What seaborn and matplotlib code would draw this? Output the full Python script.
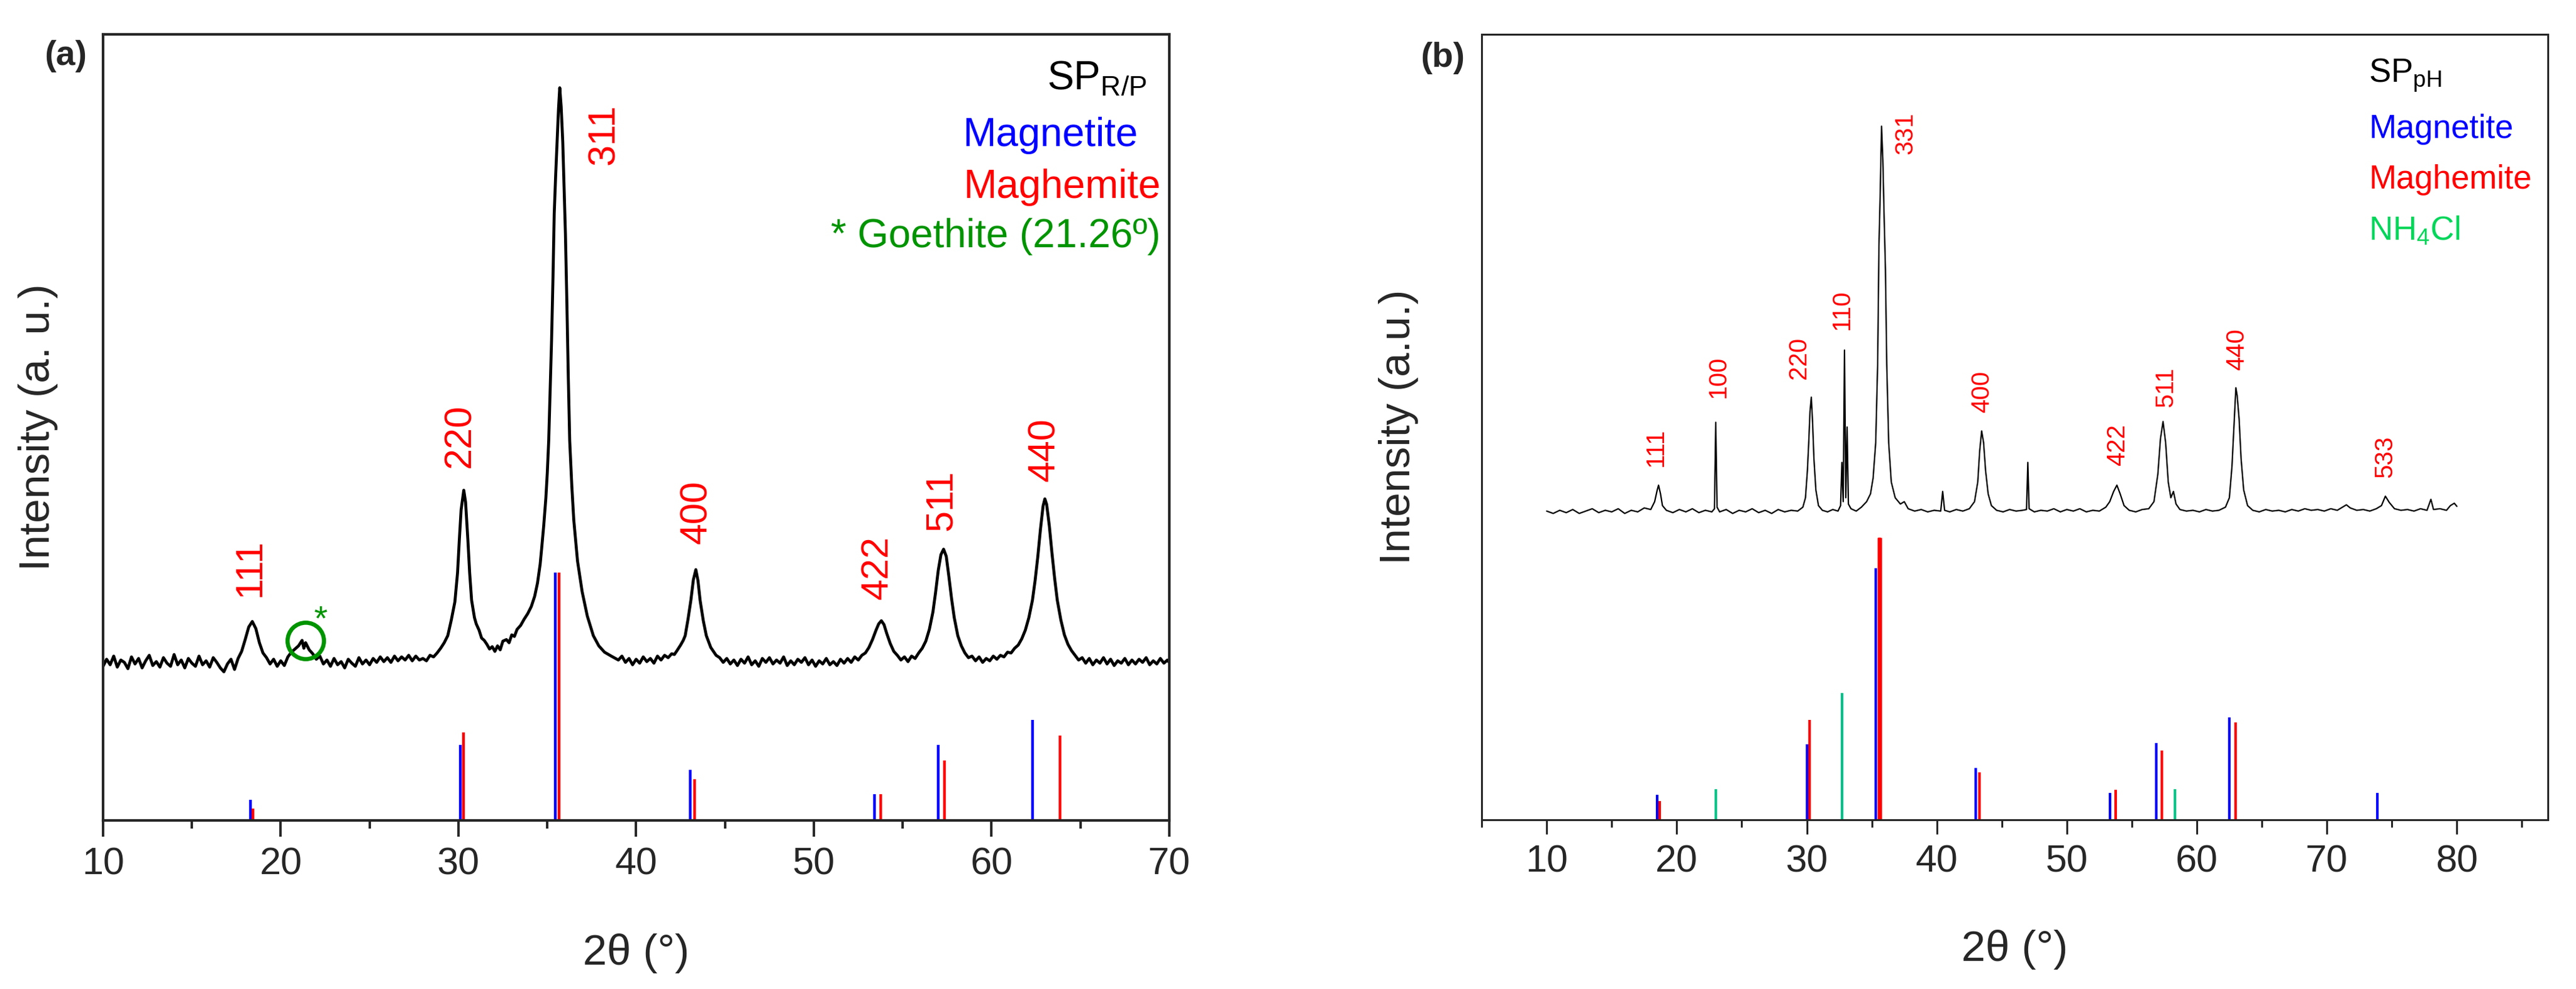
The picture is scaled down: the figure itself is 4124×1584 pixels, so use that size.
import matplotlib
matplotlib.use("Agg")
import matplotlib.pyplot as plt
import seaborn as sns
from matplotlib.ticker import MultipleLocator

# ---- (a) SP R/P pattern (2theta, intensity in a.u.)
a_tt = [10.0, 10.2, 10.4, 10.6, 10.8, 11.0, 11.2, 11.4, 11.6, 11.8, 12.0, 12.2, 12.4, 12.6, 12.8,
        13.0, 13.2, 13.4, 13.6, 13.8, 14.0, 14.2, 14.4, 14.6, 14.8, 15.0, 15.2, 15.4, 15.6, 15.8,
        16.0, 16.2, 16.4, 16.6, 16.8, 17.0, 17.2, 17.4, 17.6, 17.8, 18.0, 18.2, 18.4, 18.6, 18.8,
        19.0, 19.2, 19.4, 19.6, 19.8, 20.0, 20.2, 20.4, 20.6, 20.8, 21.0, 21.2, 21.3, 21.4, 21.6,
        21.8, 22.0, 22.2, 22.4, 22.6, 22.8, 23.0, 23.2, 23.4, 23.6, 23.8, 24.0, 24.2, 24.4, 24.6,
        24.8, 25.0, 25.2, 25.4, 25.6, 25.8, 26.0, 26.2, 26.4, 26.6, 26.8, 27.0, 27.2, 27.4, 27.6,
        27.8, 28.0, 28.2, 28.4, 28.6, 28.8, 29.0, 29.2, 29.4, 29.6, 29.8, 29.95, 30.05, 30.15, 30.3,
        30.4, 30.53, 30.63, 30.74, 30.9, 31.0, 31.16, 31.3, 31.45, 31.6, 31.75, 31.9, 32.05, 32.2,
        32.35, 32.5, 32.7, 32.85, 33.0, 33.15, 33.3, 33.5, 33.7, 33.9, 34.1, 34.29, 34.45, 34.6,
        34.68, 34.8, 34.92, 35.0, 35.08, 35.16, 35.24, 35.32, 35.39, 35.47, 35.55, 35.63, 35.7,
        35.78, 35.87, 35.95, 36.02, 36.1, 36.18, 36.26, 36.38, 36.49, 36.7, 36.96, 37.25, 37.59,
        37.9, 38.22, 38.6, 39.0, 39.2, 39.4, 39.6, 39.8, 40.0, 40.2, 40.4, 40.6, 40.8, 41.0, 41.2,
        41.4, 41.6, 41.8, 42.0, 42.15, 42.3, 42.5, 42.65, 42.76, 42.92, 43.08, 43.22, 43.36, 43.48,
        43.6, 43.78, 43.95, 44.2, 44.5, 44.7, 44.9, 45.1, 45.3, 45.5, 45.7, 45.9, 46.1, 46.3, 46.5,
        46.7, 46.9, 47.1, 47.3, 47.5, 47.7, 47.9, 48.1, 48.3, 48.5, 48.7, 48.9, 49.1, 49.3, 49.5,
        49.7, 49.9, 50.1, 50.3, 50.5, 50.7, 50.9, 51.1, 51.3, 51.5, 51.7, 51.9, 52.1, 52.3, 52.5,
        52.7, 52.9, 53.1, 53.3, 53.5, 53.65, 53.8, 53.95, 54.1, 54.3, 54.5, 54.7, 54.9, 55.1, 55.3,
        55.5, 55.7, 55.9, 56.1, 56.3, 56.5, 56.7, 56.85, 57.0, 57.15, 57.3, 57.45, 57.6, 57.75,
        57.9, 58.1, 58.3, 58.5, 58.7, 58.9, 59.1, 59.3, 59.5, 59.7, 59.9, 60.1, 60.3, 60.5, 60.7,
        60.9, 61.1, 61.3, 61.5, 61.7, 61.9, 62.1, 62.3, 62.45, 62.6, 62.75, 62.9, 63.0, 63.1,
        63.25, 63.4, 63.55, 63.7, 63.9, 64.1, 64.3, 64.5, 64.7, 64.9, 65.1, 65.3, 65.5, 65.7, 65.9,
        66.1, 66.3, 66.5, 66.7, 66.9, 67.1, 67.3, 67.5, 67.7, 67.9, 68.1, 68.3, 68.5, 68.7, 68.9,
        69.1, 69.3, 69.5, 69.7, 69.9, 70.0]
a_int = [19.6, 20.5, 19.8, 20.9, 19.5, 20.4, 20.1, 19.3, 20.8, 19.9, 20.6, 19.4, 20.3, 21.0, 19.7,
         20.2, 19.5, 20.7, 20.0, 19.6, 21.1, 19.8, 20.4, 19.4, 20.6, 20.0, 19.6, 20.9, 19.8, 20.3,
         19.5, 20.7, 20.1, 19.4, 18.9, 19.9, 20.5, 19.2, 20.6, 21.5, 23.0, 24.6, 25.3, 24.4, 22.6,
         21.3, 20.7, 19.9, 20.5, 19.6, 20.3, 19.7, 20.8, 21.4, 21.8, 22.2, 22.9, 21.9, 22.6, 21.7,
         21.2, 20.5, 20.9, 19.9, 20.4, 19.6, 20.6, 19.8, 20.2, 19.4, 20.5, 20.0, 19.6, 20.7, 19.9,
         20.4, 19.8, 20.6, 20.1, 20.8, 20.2, 20.7, 20.1, 20.9, 20.3, 20.8, 20.4, 21.0, 20.3, 20.9,
         20.4, 20.6, 20.3, 21.0, 20.8, 21.3, 21.9, 22.6, 23.5, 25.5, 27.8, 31.5, 35.7, 39.5, 42.0,
         40.5, 35.7, 31.5, 28.0, 25.8, 25.0, 24.2, 23.2, 22.9, 22.4, 21.8, 22.1, 21.5, 22.2,
         21.7, 22.8, 23.0, 22.6, 23.6, 23.4, 24.3, 24.8, 25.6, 26.3, 27.2, 28.5, 30.2, 32.6,
         34.5, 37.5, 41.0, 44.2, 48.3, 54.5, 61.0, 69.0, 77.2, 82.0, 86.3, 90.5, 93.2,
         90.8, 86.3, 80.0, 74.6, 66.0, 56.5, 48.3, 42.5, 38.2, 33.0, 29.1, 26.0, 23.5,
         22.2, 21.4, 20.9, 20.4, 20.9, 20.1, 20.6, 19.8, 20.5, 20.0, 20.8, 20.2, 20.6, 20.0, 20.9,
         20.4, 21.0, 20.7, 21.2, 21.1, 21.6, 22.3, 22.9, 23.5, 25.6, 28.0, 30.6, 31.9, 30.5,
         28.0, 25.4, 23.5, 22.0, 21.0, 20.7, 20.1, 20.6, 19.9, 20.4, 19.7, 20.5, 20.0, 20.8, 19.8,
         20.3, 19.6, 20.6, 20.1, 20.7, 19.9, 20.4, 20.0, 20.8, 19.7, 20.3, 19.8, 20.5, 20.1, 20.7,
         19.8, 20.4, 19.6, 20.3, 19.9, 20.6, 19.8, 20.2, 19.7, 20.5, 20.0, 20.6, 20.1, 20.8, 20.4,
         21.0, 21.3, 22.0, 23.0, 24.2, 25.0, 25.4, 24.9, 23.8, 22.5, 21.5, 21.0, 20.4, 20.8, 20.2,
         20.9, 20.6, 21.3, 21.9, 22.8, 24.3, 26.5, 29.0, 31.8, 33.8, 34.5, 33.6, 31.0, 28.2,
         25.8, 23.5, 22.2, 21.3, 20.7, 20.9, 20.3, 20.8, 20.1, 20.6, 20.3, 20.9, 20.5, 21.0, 20.8,
         21.4, 21.3, 21.9, 22.3, 23.1, 24.2, 25.8, 28.0, 30.5, 33.5, 37.0, 40.0, 40.9, 40.2,
         37.5, 34.0, 30.8, 28.0, 25.5, 23.6, 22.4, 21.6, 21.0, 20.4, 20.7, 20.0, 20.6, 19.8, 20.4,
         20.0, 20.7, 19.9, 20.5, 19.7, 20.3, 20.0, 20.6, 19.8, 20.4, 19.9, 20.5, 20.1, 20.7, 19.8,
         20.3, 19.9, 20.6, 20.0, 20.4, 20.1]

# ---- (a) reference sticks
a_magnetite_tt = [18.3, 30.1, 35.45, 43.05, 53.4, 57.0, 62.3]
a_magnetite_int = [2.6, 9.6, 31.5, 6.4, 3.3, 9.6, 12.8]
a_maghemite_tt = [18.45, 30.3, 35.65, 43.3, 53.75, 57.35, 63.85]
a_maghemite_int = [1.5, 11.2, 31.5, 5.2, 3.3, 7.6, 10.8]

a_hkl = ["111", "220", "311", "400", "422", "511", "440"]
a_hkl_tt = [18.3, 30.1, 38.2, 43.4, 53.6, 57.2, 63.0]
a_hkl_y = [32.1, 48.9, 87.3, 39.2, 32.2, 40.7, 47.2]

# ---- (b) SP pH pattern
b_tt = [10.0, 10.5, 11.0, 11.5, 12.0, 12.5, 13.0, 13.5, 14.0, 14.5, 15.0, 15.5, 16.0, 16.5, 17.0,
        17.5, 18.0, 18.3, 18.5, 18.6, 18.75, 18.9, 19.2, 19.7, 20.2, 20.7, 21.2, 21.7, 22.2, 22.7,
        22.9, 23.0, 23.1, 23.3, 23.8, 24.3, 24.8, 25.3, 25.8, 26.3, 26.8, 27.3, 27.8, 28.3, 28.8,
        29.3, 29.7, 29.9, 30.05, 30.15, 30.25, 30.35, 30.45, 30.55, 30.7, 30.9, 31.2, 31.6, 32.0,
        32.4, 32.6, 32.7, 32.8, 32.9, 33.0, 33.1, 33.2, 33.4, 33.8, 34.2, 34.6, 34.9, 35.1, 35.3,
        35.45, 35.55, 35.65, 35.75, 35.85, 35.95, 36.05, 36.15, 36.3, 36.5, 36.8, 37.2, 37.5,
        37.8, 38.3, 38.8, 39.3, 39.8, 40.3, 40.45, 40.6, 41.0, 41.5, 42.0, 42.5, 42.9, 43.15,
        43.3, 43.45, 43.6, 43.75, 43.95, 44.2, 44.6, 45.1, 45.6, 46.1, 46.6, 46.9, 47.0, 47.1,
        47.5, 48.0, 48.5, 49.0, 49.5, 50.0, 50.5, 51.0, 51.5, 52.0, 52.5, 53.0, 53.3, 53.6, 53.85,
        54.1, 54.4, 54.8, 55.3, 55.8, 56.3, 56.7, 57.0, 57.2, 57.4, 57.6, 57.8, 58.0, 58.2, 58.4,
        58.7, 59.2, 59.7, 60.2, 60.7, 61.2, 61.7, 62.2, 62.5, 62.7, 62.85, 63.0, 63.1, 63.25,
        63.4, 63.6, 63.9, 64.3, 64.8, 65.3, 65.8, 66.3, 66.8, 67.3, 67.8, 68.3, 68.8, 69.3, 69.8,
        70.3, 70.8, 71.2, 71.5, 71.8, 72.3, 72.8, 73.3, 73.8, 74.2, 74.5, 74.8, 75.2, 75.7, 76.2,
        76.7, 77.2, 77.7, 78.0, 78.2, 78.7, 79.2, 79.5, 79.8, 80.0]
b_int = [39.3, 39.0, 39.4, 39.1, 39.5, 39.0, 39.3, 39.6, 39.1, 39.4, 39.2, 39.6, 39.0, 39.4, 39.2,
         39.7, 39.5, 40.5, 42.0, 42.6, 41.5, 40.0, 39.4, 39.1, 39.5, 39.2, 39.6, 39.1, 39.4, 39.2,
         39.6, 50.6, 39.8, 39.2, 39.5, 39.0, 39.4, 39.2, 39.6, 39.1, 39.4, 39.0, 39.5, 39.2, 39.4,
         39.3, 39.8, 41.0, 44.5, 48.0, 52.0, 53.8, 50.5, 46.0, 42.0, 40.0, 39.4, 39.2, 39.5,
         39.3, 40.0, 45.5, 40.5, 59.8, 41.0, 50.0, 40.2, 39.6, 39.3, 39.8, 40.5, 41.5, 43.5, 48.0,
         58.0, 73.0, 80.0, 88.3, 84.0, 76.7, 70.0, 58.0, 48.0, 43.0, 41.0, 40.2, 40.5,
         39.6, 39.3, 39.5, 39.2, 39.4, 39.3, 41.8, 39.4, 39.2, 39.5, 39.3, 39.6, 40.5, 43.0,
         47.0, 49.5, 48.0, 44.5, 41.5, 40.0, 39.4, 39.2, 39.5, 39.3, 39.4, 39.5, 45.5, 39.6,
         39.2, 39.4, 39.3, 39.6, 39.2, 39.5, 39.3, 39.6, 39.2, 39.4, 39.3, 39.8, 40.5, 41.8, 42.6,
         41.5, 40.0, 39.4, 39.2, 39.5, 39.6, 40.5, 44.0, 48.5, 50.7, 48.0, 43.0, 41.0, 41.8, 40.2,
         39.5, 39.3, 39.4, 39.2, 39.5, 39.3, 39.4, 39.8, 41.0, 45.0, 50.0, 55.0, 54.0, 51.0,
         46.0, 42.0, 40.0, 39.4, 39.2, 39.5, 39.3, 39.4, 39.2, 39.5, 39.3, 39.6, 39.4, 39.5, 39.3,
         39.6, 39.4, 39.8, 40.1, 39.7, 39.4, 39.5, 39.3, 39.6, 40.0, 41.2, 40.4, 39.6, 39.4, 39.5,
         39.3, 39.6, 39.4, 40.8, 39.5, 39.6, 39.4, 40.0, 40.3, 39.9]

# ---- (b) reference sticks
b_magnetite_tt = [18.5, 30.0, 35.3, 43.0, 53.3, 56.9, 62.5, 73.9]
b_magnetite_int = [3.2, 9.6, 32.0, 6.6, 3.4, 9.8, 13.0, 3.4]
b_maghemite_tt = [18.7, 30.2, 35.6, 43.3, 53.75, 57.3, 63.0]
b_maghemite_int = [2.4, 12.7, 35.9, 6.0, 3.8, 8.8, 12.4]
b_nh4cl_tt = [23.0, 32.7, 58.3]
b_nh4cl_int = [3.9, 16.1, 3.9]

b_hkl = ["111", "100", "220", "110", "331", "400", "422", "511", "440", "533"]
b_hkl_tt = [18.4, 23.2, 29.4, 32.7, 37.6, 43.5, 53.9, 57.6, 63.1, 74.5]
b_hkl_y = [47.4, 56.4, 58.8, 65.0, 87.4, 54.5, 47.7, 55.1, 59.9, 46.2]

BLUE = "#0000FF"
RED = "#FF0000"
GREEN_A = "#009400"
GREEN_B_TXT = "#00D65A"
GREEN_B_STK = "#00C488"

sns.set_style("ticks")
plt.rcParams["font.family"] = ["Liberation Sans", "DejaVu Sans"]
plt.rcParams["mathtext.default"] = "regular"

fig = plt.figure(figsize=(20.62, 7.92), dpi=200)
ax_a = fig.add_axes([0.0400, 0.1705, 0.4139, 0.7948])
ax_b = fig.add_axes([0.5752, 0.1711, 0.4139, 0.7942])

# ---------------- panel (a)
sns.lineplot(x=a_tt, y=a_int, ax=ax_a, color="black", lw=1.7, sort=False, estimator=None)
ax_a.vlines(a_magnetite_tt, 0, a_magnetite_int, colors=BLUE, lw=1.6)
ax_a.vlines(a_maghemite_tt, 0, a_maghemite_int, colors=RED, lw=1.6)
for lab, x, y in zip(a_hkl, a_hkl_tt, a_hkl_y):
    ax_a.text(x, y, lab, color=RED, fontsize=22, rotation=90, ha="center", va="center")
ax_a.plot([21.4], [22.9], marker="o", ms=21, mfc="none", mec=GREEN_A, mew=2.4)
ax_a.text(22.25, 25.4, "*", color=GREEN_A, fontsize=20, ha="center", va="center")

ax_a.text(0.979, 0.944, "SP$_{R/P}$", transform=ax_a.transAxes, ha="right", va="center",
          fontsize=23, color="black")
ax_a.text(0.971, 0.871, "Magnetite", transform=ax_a.transAxes, ha="right", va="center",
          fontsize=23, color=BLUE)
ax_a.text(0.992, 0.805, "Maghemite", transform=ax_a.transAxes, ha="right", va="center",
          fontsize=23, color=RED)
ax_a.text(0.992, 0.743, "* Goethite (21.26º)", transform=ax_a.transAxes, ha="right",
          va="center", fontsize=23, color=GREEN_A)

ax_a.set_xlim(10, 70)
ax_a.set_ylim(0, 100)
ax_a.xaxis.set_major_locator(MultipleLocator(10))
ax_a.xaxis.set_minor_locator(MultipleLocator(5))
ax_a.set_yticks([])
ax_a.tick_params(axis="x", which="major", length=9.4, width=1.4, labelsize=22, pad=6)
ax_a.tick_params(axis="x", which="minor", length=4.5, width=1.4)
for s in ax_a.spines.values():
    s.set_linewidth(1.5)
ax_a.set_xlabel("2θ (°)", fontsize=25)
ax_a.set_ylabel("Intensity (a. u.)", fontsize=25)
ax_a.xaxis.set_label_coords(0.5, -0.144)
ax_a.yaxis.set_label_coords(-0.042, 0.5)

# ---------------- panel (b)
sns.lineplot(x=b_tt, y=b_int, ax=ax_b, color="black", lw=0.8, sort=False, estimator=None)
ax_b.vlines(b_magnetite_tt, 0, b_magnetite_int, colors=BLUE, lw=1.5)
ax_b.vlines(b_maghemite_tt, 0, b_maghemite_int, colors=RED, lw=1.5)
ax_b.vlines([35.6], 0, [35.9], colors=RED, lw=2.6)
ax_b.vlines(b_nh4cl_tt, 0, b_nh4cl_int, colors=GREEN_B_STK, lw=1.5)
for lab, x, y in zip(b_hkl, b_hkl_tt, b_hkl_y):
    ax_b.text(x, y, lab, color=RED, fontsize=14.5, rotation=90, ha="center", va="center")

ax_b.text(0.832, 0.948, "SP$_{pH}$", transform=ax_b.transAxes, ha="left", va="center",
          fontsize=19, color="black")
ax_b.text(0.832, 0.879, "Magnetite", transform=ax_b.transAxes, ha="left", va="center",
          fontsize=19, color=BLUE)
ax_b.text(0.832, 0.815, "Maghemite", transform=ax_b.transAxes, ha="left", va="center",
          fontsize=19, color=RED)
ax_b.text(0.832, 0.750, "NH$_4$Cl", transform=ax_b.transAxes, ha="left", va="center",
          fontsize=19, color=GREEN_B_TXT)

ax_b.set_xlim(5, 87)
ax_b.set_ylim(0, 100)
ax_b.xaxis.set_major_locator(MultipleLocator(10))
ax_b.xaxis.set_minor_locator(MultipleLocator(5))
ax_b.set_xticks(range(10, 81, 10))
ax_b.set_yticks([])
ax_b.tick_params(axis="x", which="major", length=8.3, width=1.1, labelsize=22, pad=6)
ax_b.tick_params(axis="x", which="minor", length=4.3, width=1.1)
for s in ax_b.spines.values():
    s.set_linewidth(1.1)
ax_b.set_xlabel("2θ (°)", fontsize=25)
ax_b.set_ylabel("Intensity (a.u.)", fontsize=25)
ax_b.xaxis.set_label_coords(0.5, -0.14)
ax_b.yaxis.set_label_coords(-0.059, 0.5)

fig.text(105 / 4124, 1 - 90 / 1584, "(a)", fontsize=20, fontweight="bold", ha="center",
         va="center")
fig.text(2310 / 4124, 1 - 93 / 1584, "(b)", fontsize=20, fontweight="bold", ha="center",
         va="center")

fig.savefig("out.png", dpi=200, facecolor="white")
